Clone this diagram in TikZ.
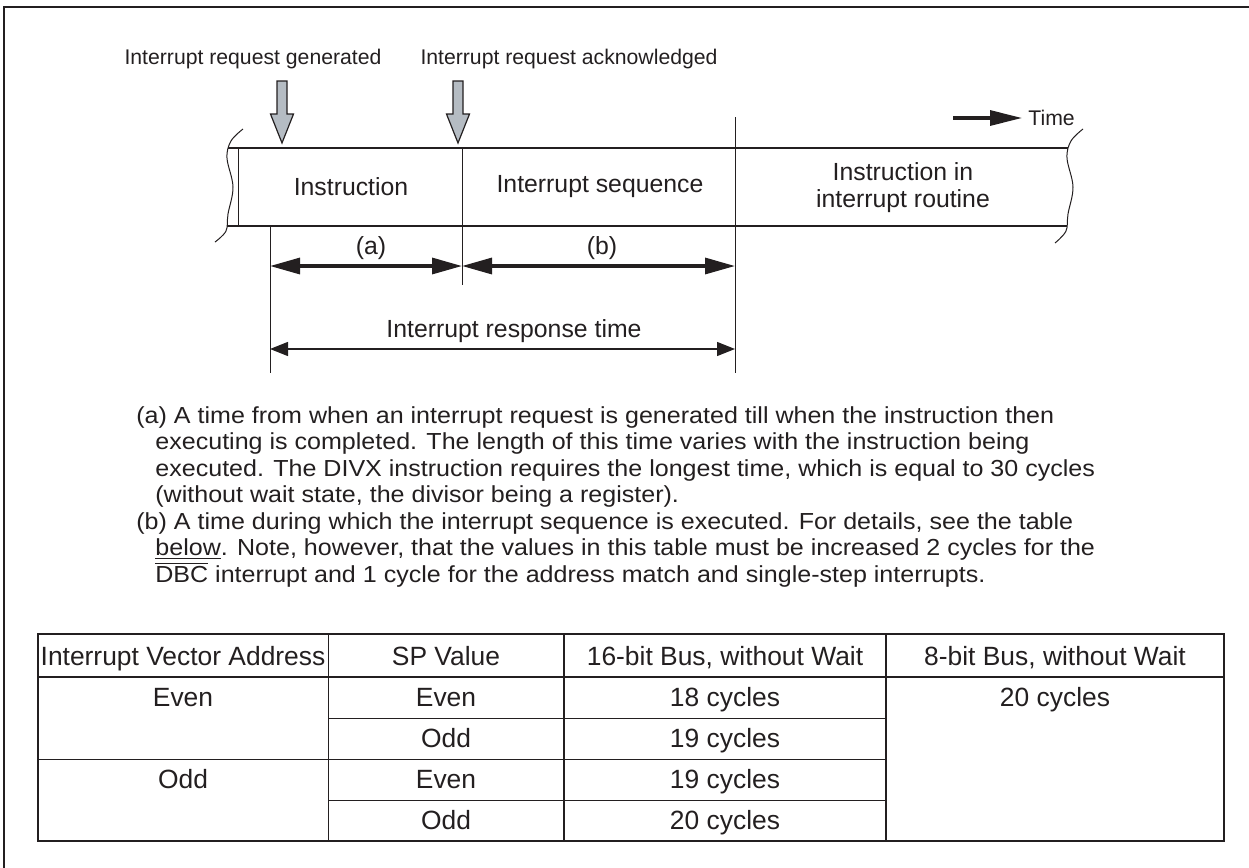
\documentclass[tikz,border=0pt]{standalone}
\usepackage{fontspec}
\setmainfont{Liberation Sans}
\newfontfamily\parafont{Liberation Sans}[FakeStretch=1.08]
\usetikzlibrary{arrows.meta}
\definecolor{ink}{HTML}{231F20}
\definecolor{arrowgray}{HTML}{B5BCC3}
\begin{document}
\begin{tikzpicture}[x=0.5pt,y=-0.5pt,
  lbl/.style={font=\fontsize{10.6}{12}\selectfont, text=ink, inner sep=0pt, anchor=base},
  bartxt/.style={font=\fontsize{12.4}{13.5}\selectfont, text=ink, align=center, inner sep=0pt},
  para/.style={font=\parafont\fontsize{11.6}{13}\selectfont, text=ink, anchor=base west, inner sep=0pt},
  cell/.style={font=\fontsize{13.2}{14}\selectfont, text=ink, anchor=base, inner sep=0pt},
  thinln/.style={draw=ink, line width=0.5pt},
  midln/.style={draw=ink, line width=0.8pt},
  thickln/.style={draw=ink, line width=1pt},
  dimarrow/.style={draw=ink, line width=1.6pt, {Triangle[length=15pt,width=8pt]}-{Triangle[length=15pt,width=8pt]}},
  resparrow/.style={draw=ink, line width=0.6pt, {Triangle[length=9pt,width=7pt]}-{Triangle[length=9pt,width=7pt]}},
  timearrow/.style={draw=ink, line width=1.6pt, -{Triangle[length=16pt,width=7.5pt]}},
  downarrow/.style={fill=arrowgray, draw=ink, line width=0.6pt, line join=miter},
]
\useasboundingbox (0,0) rectangle (1249,868);
% frame
\draw[thickln] (4,868) -- (4,7) -- (1249,7);

% top labels
\node[lbl] (lblgen) at (253,64) {Interrupt request generated};
\node[lbl] (lblack) at (569,64) {Interrupt request acknowledged};

% gray down arrows
\draw[downarrow] (277,81) -- (287,81) -- (287,114) -- (293.5,114) -- (282,143) -- (270.5,114) -- (277,114) -- cycle;
\draw[downarrow] (453,81) -- (463,81) -- (463,114) -- (469.5,114) -- (458,143) -- (446.5,114) -- (453,114) -- cycle;

% bar
\draw[thickln] (228,148) -- (1068,148);
\draw[thickln] (227,226) -- (1067,226);
\draw[thinln] (238,148) -- (238,226);
\draw[thinln] plot[smooth, tension=0.6] coordinates {(243,129) (231,141) (227,158) (233,187) (228,214) (226,231) (215,242)};
\draw[thinln] plot[smooth, tension=0.6] coordinates {(1083,129) (1071,141) (1067,158) (1073,187) (1068,214) (1066,231) (1055,243)};

% dividers and extension lines
\draw[thinln] (462,148) -- (462,285);
\draw[thinln] (735,117) -- (735,373);
\draw[thinln] (270,226) -- (270,373);

% bar texts
\node[bartxt] (instr) at (351,187) {Instruction};
\node[bartxt] (iseq) at (600,187) {Interrupt sequence};
\node[bartxt] (iroutine) at (903,188) {Instruction in\\interrupt routine};

% time arrow
\coordinate (tA) at (953,118);
\coordinate (tB) at (1022,118);
\draw[timearrow] (tA) -- (tB);
\node[lbl, anchor=base west] (time) at (1028,125) {Time};

% dimension arrows
\coordinate (aL) at (270,266);
\coordinate (aM) at (462,266);
\coordinate (aR) at (735,266);
\draw[dimarrow] (aL) -- (aM);
\draw[dimarrow] (aM) -- (aR);
\node[bartxt] (la) at (371,248) {(a)};
\node[bartxt] (lb) at (602,248) {(b)};
\coordinate (rL) at (270,349);
\coordinate (rR) at (735,349);
\draw[resparrow] (rL) -- (rR);
\node[bartxt] (resp) at (514,331) {Interrupt response time};

% paragraph
\node[para] (p1) at (136,423) {(a) A time from when an interrupt request is generated till when the instruction then};
\node[para] (p2) at (155,449.5) {executing is completed. The length of this time varies with the instruction being};
\node[para] (p3) at (155,476) {executed. The DIVX instruction requires the longest time, which is equal to 30 cycles};
\node[para] (p4) at (155,502.5) {(without wait state, the divisor being a register).};
\node[para] (p5) at (136,529) {(b) A time during which the interrupt sequence is executed. For details, see the table};
\node[para] (p6) at (155,555.5) {\underline{below}. Note, however, that the values in this table must be increased 2 cycles for the};
\node[para] (p7) at (155,582) {$\overline{\hbox{\parafont DBC}}$ interrupt and 1 cycle for the address match and single-step interrupts.};

% table
\def\Xa{38}\def\Xb{328}\def\Xc{564}\def\Xd{886}\def\Xe{1224}
\def\Ya{634}\def\Yb{677}\def\Yc{718}\def\Yd{759}\def\Ye{800}\def\Yf{841}
\draw[thinln] (\Xb,\Ya) -- (\Xb,\Yf);
\draw[midln] (\Xc,\Ya) -- (\Xc,\Yf);
\draw[midln] (\Xd,\Ya) -- (\Xd,\Yf);
\draw[thinln] (\Xb,\Yc) -- (\Xd,\Yc);
\draw[thinln] (\Xa,\Yd) -- (\Xd,\Yd);
\draw[thinln] (\Xb,\Ye) -- (\Xd,\Ye);
\draw[thickln] (\Xa,\Yb) -- (\Xe,\Yb);
\draw[thickln] (\Xa,\Ya) rectangle (\Xe,\Yf);

\node[cell] (h1) at ({(\Xa+\Xb)/2},665) {Interrupt Vector Address};
\node[cell] (h2) at ({(\Xb+\Xc)/2},665) {SP Value};
\node[cell] (h3) at ({(\Xc+\Xd)/2},665) {16-bit Bus, without Wait};
\node[cell] (h4) at ({(\Xd+\Xe)/2},665) {8-bit Bus, without Wait};

\node[cell] (v1) at ({(\Xa+\Xb)/2},706) {Even};
\node[cell] (v2) at ({(\Xa+\Xb)/2},788) {Odd};
\node[cell] (s1) at ({(\Xb+\Xc)/2},706) {Even};
\node[cell] (s2) at ({(\Xb+\Xc)/2},747) {Odd};
\node[cell] (s3) at ({(\Xb+\Xc)/2},788) {Even};
\node[cell] (s4) at ({(\Xb+\Xc)/2},829) {Odd};
\node[cell] (c1) at ({(\Xc+\Xd)/2},706) {18 cycles};
\node[cell] (c2) at ({(\Xc+\Xd)/2},747) {19 cycles};
\node[cell] (c3) at ({(\Xc+\Xd)/2},788) {19 cycles};
\node[cell] (c4) at ({(\Xc+\Xd)/2},829) {20 cycles};
\node[cell] (e1) at ({(\Xd+\Xe)/2},706) {20 cycles};
\end{tikzpicture}
\end{document}
